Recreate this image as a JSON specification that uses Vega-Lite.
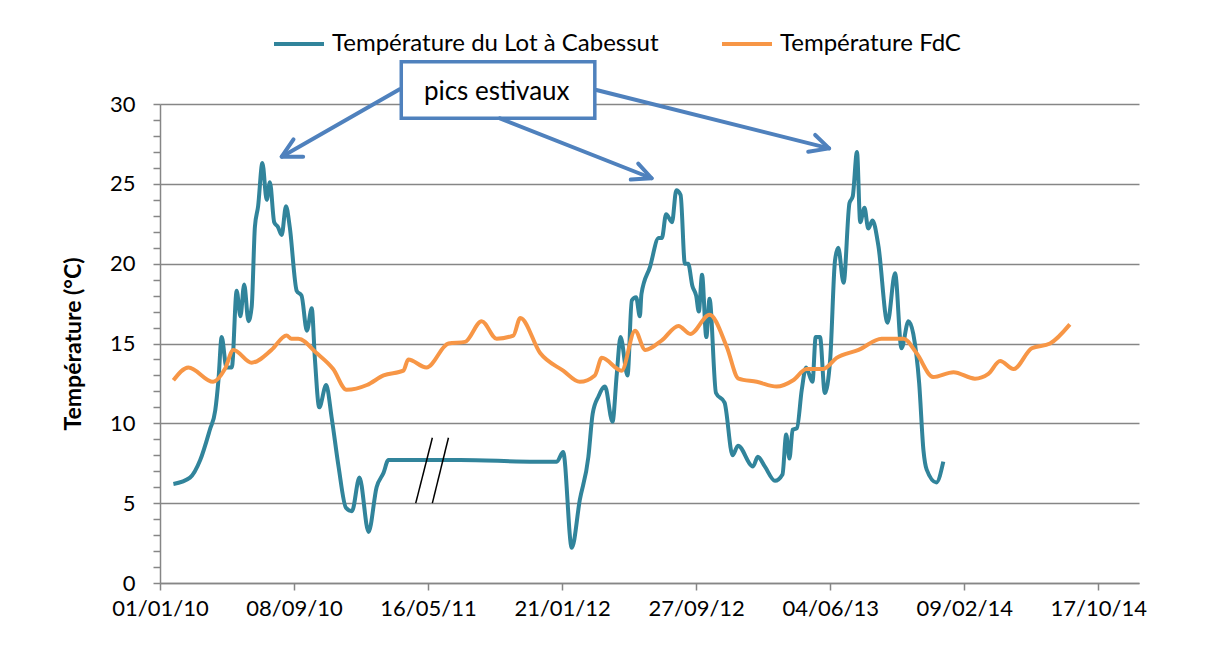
{
  "$schema": "https://vega.github.io/schema/vega-lite/v6.json",
  "width": 979,
  "height": 479,
  "autosize": {"type": "none"},
  "padding": {"left": 160, "top": 104, "right": 74, "bottom": 72},
  "background": "white",
  "config": {
    "font": "Lato",
    "view": {"stroke": null},
    "axis": {"labelColor": "#000", "titleColor": "#000", "domainColor": "#868686", "tickColor": "#868686", "gridColor": "#868686", "domainWidth": 1.5, "tickWidth": 1.5, "gridWidth": 1.5}
  },
  "datasets": {
    "temps": [
      {"serie": "Température du Lot à Cabessut", "date": "2010-01-26", "t": 6.2},
      {"serie": "Température du Lot à Cabessut", "date": "2010-02-26", "t": 6.6},
      {"serie": "Température du Lot à Cabessut", "date": "2010-03-17", "t": 7.7},
      {"serie": "Température du Lot à Cabessut", "date": "2010-04-04", "t": 9.6},
      {"serie": "Température du Lot à Cabessut", "date": "2010-04-14", "t": 10.8},
      {"serie": "Température du Lot à Cabessut", "date": "2010-04-20", "t": 12.7},
      {"serie": "Température du Lot à Cabessut", "date": "2010-04-26", "t": 15.4},
      {"serie": "Température du Lot à Cabessut", "date": "2010-05-05", "t": 13.5},
      {"serie": "Température du Lot à Cabessut", "date": "2010-05-15", "t": 13.5},
      {"serie": "Température du Lot à Cabessut", "date": "2010-05-24", "t": 18.3},
      {"serie": "Température du Lot à Cabessut", "date": "2010-05-31", "t": 16.7},
      {"serie": "Température du Lot à Cabessut", "date": "2010-06-07", "t": 18.7},
      {"serie": "Température du Lot à Cabessut", "date": "2010-06-15", "t": 16.4},
      {"serie": "Température du Lot à Cabessut", "date": "2010-06-21", "t": 17.3},
      {"serie": "Température du Lot à Cabessut", "date": "2010-06-27", "t": 22.3},
      {"serie": "Température du Lot à Cabessut", "date": "2010-07-03", "t": 23.6},
      {"serie": "Température du Lot à Cabessut", "date": "2010-07-11", "t": 26.3},
      {"serie": "Température du Lot à Cabessut", "date": "2010-07-19", "t": 24.0},
      {"serie": "Température du Lot à Cabessut", "date": "2010-07-25", "t": 25.1},
      {"serie": "Température du Lot à Cabessut", "date": "2010-08-02", "t": 22.6},
      {"serie": "Température du Lot à Cabessut", "date": "2010-08-09", "t": 22.3},
      {"serie": "Température du Lot à Cabessut", "date": "2010-08-16", "t": 21.8},
      {"serie": "Température du Lot à Cabessut", "date": "2010-08-24", "t": 23.6},
      {"serie": "Température du Lot à Cabessut", "date": "2010-08-31", "t": 22.3},
      {"serie": "Température du Lot à Cabessut", "date": "2010-09-13", "t": 18.3},
      {"serie": "Température du Lot à Cabessut", "date": "2010-09-22", "t": 18.0},
      {"serie": "Température du Lot à Cabessut", "date": "2010-10-02", "t": 15.8},
      {"serie": "Température du Lot à Cabessut", "date": "2010-10-11", "t": 17.2},
      {"serie": "Température du Lot à Cabessut", "date": "2010-10-17", "t": 14.0},
      {"serie": "Température du Lot à Cabessut", "date": "2010-10-25", "t": 11.0},
      {"serie": "Température du Lot à Cabessut", "date": "2010-11-07", "t": 12.4},
      {"serie": "Température du Lot à Cabessut", "date": "2010-11-17", "t": 10.4},
      {"serie": "Température du Lot à Cabessut", "date": "2010-11-30", "t": 7.3},
      {"serie": "Température du Lot à Cabessut", "date": "2010-12-14", "t": 4.7},
      {"serie": "Température du Lot à Cabessut", "date": "2010-12-25", "t": 4.5},
      {"serie": "Température du Lot à Cabessut", "date": "2011-01-08", "t": 6.6},
      {"serie": "Température du Lot à Cabessut", "date": "2011-01-25", "t": 3.2},
      {"serie": "Température du Lot à Cabessut", "date": "2011-02-09", "t": 6.0},
      {"serie": "Température du Lot à Cabessut", "date": "2011-02-22", "t": 6.9},
      {"serie": "Température du Lot à Cabessut", "date": "2011-03-03", "t": 7.7},
      {"serie": "Température du Lot à Cabessut", "date": "2011-07-15", "t": 7.7},
      {"serie": "Température du Lot à Cabessut", "date": "2011-12-02", "t": 7.6},
      {"serie": "Température du Lot à Cabessut", "date": "2012-01-11", "t": 7.6},
      {"serie": "Température du Lot à Cabessut", "date": "2012-01-23", "t": 8.2},
      {"serie": "Température du Lot à Cabessut", "date": "2012-02-08", "t": 2.2},
      {"serie": "Température du Lot à Cabessut", "date": "2012-02-23", "t": 5.2},
      {"serie": "Température du Lot à Cabessut", "date": "2012-03-10", "t": 7.9},
      {"serie": "Température du Lot à Cabessut", "date": "2012-03-18", "t": 10.6},
      {"serie": "Température du Lot à Cabessut", "date": "2012-03-29", "t": 11.7},
      {"serie": "Température du Lot à Cabessut", "date": "2012-04-10", "t": 12.3},
      {"serie": "Température du Lot à Cabessut", "date": "2012-04-24", "t": 10.1},
      {"serie": "Température du Lot à Cabessut", "date": "2012-05-02", "t": 13.1},
      {"serie": "Température du Lot à Cabessut", "date": "2012-05-09", "t": 15.4},
      {"serie": "Température du Lot à Cabessut", "date": "2012-05-22", "t": 13.0},
      {"serie": "Température du Lot à Cabessut", "date": "2012-05-30", "t": 17.7},
      {"serie": "Température du Lot à Cabessut", "date": "2012-06-07", "t": 17.9},
      {"serie": "Température du Lot à Cabessut", "date": "2012-06-14", "t": 16.7},
      {"serie": "Température du Lot à Cabessut", "date": "2012-06-17", "t": 18.1},
      {"serie": "Température du Lot à Cabessut", "date": "2012-07-03", "t": 19.8},
      {"serie": "Température du Lot à Cabessut", "date": "2012-07-19", "t": 21.6},
      {"serie": "Température du Lot à Cabessut", "date": "2012-07-25", "t": 21.6},
      {"serie": "Température du Lot à Cabessut", "date": "2012-08-02", "t": 23.1},
      {"serie": "Température du Lot à Cabessut", "date": "2012-08-13", "t": 22.6},
      {"serie": "Température du Lot à Cabessut", "date": "2012-08-21", "t": 24.6},
      {"serie": "Température du Lot à Cabessut", "date": "2012-08-29", "t": 24.3},
      {"serie": "Température du Lot à Cabessut", "date": "2012-09-06", "t": 20.0},
      {"serie": "Température du Lot à Cabessut", "date": "2012-09-12", "t": 20.0},
      {"serie": "Température du Lot à Cabessut", "date": "2012-09-20", "t": 18.6},
      {"serie": "Température du Lot à Cabessut", "date": "2012-09-27", "t": 18.0},
      {"serie": "Température du Lot à Cabessut", "date": "2012-10-02", "t": 17.0},
      {"serie": "Température du Lot à Cabessut", "date": "2012-10-08", "t": 19.3},
      {"serie": "Température du Lot à Cabessut", "date": "2012-10-16", "t": 15.4},
      {"serie": "Température du Lot à Cabessut", "date": "2012-10-22", "t": 17.8},
      {"serie": "Température du Lot à Cabessut", "date": "2012-11-03", "t": 11.9},
      {"serie": "Température du Lot à Cabessut", "date": "2012-11-19", "t": 11.3},
      {"serie": "Température du Lot à Cabessut", "date": "2012-12-04", "t": 8.0},
      {"serie": "Température du Lot à Cabessut", "date": "2012-12-14", "t": 8.6},
      {"serie": "Température du Lot à Cabessut", "date": "2013-01-11", "t": 7.3},
      {"serie": "Température du Lot à Cabessut", "date": "2013-01-20", "t": 7.9},
      {"serie": "Température du Lot à Cabessut", "date": "2013-02-02", "t": 7.3},
      {"serie": "Température du Lot à Cabessut", "date": "2013-02-21", "t": 6.4},
      {"serie": "Température du Lot à Cabessut", "date": "2013-03-07", "t": 6.8},
      {"serie": "Température du Lot à Cabessut", "date": "2013-03-14", "t": 9.3},
      {"serie": "Température du Lot à Cabessut", "date": "2013-03-20", "t": 7.8},
      {"serie": "Température du Lot à Cabessut", "date": "2013-03-26", "t": 9.6},
      {"serie": "Température du Lot à Cabessut", "date": "2013-04-03", "t": 9.7},
      {"serie": "Température du Lot à Cabessut", "date": "2013-04-12", "t": 12.1},
      {"serie": "Température du Lot à Cabessut", "date": "2013-04-20", "t": 13.5},
      {"serie": "Température du Lot à Cabessut", "date": "2013-05-02", "t": 12.6},
      {"serie": "Température du Lot à Cabessut", "date": "2013-05-08", "t": 15.4},
      {"serie": "Température du Lot à Cabessut", "date": "2013-05-16", "t": 15.4},
      {"serie": "Température du Lot à Cabessut", "date": "2013-05-25", "t": 11.9},
      {"serie": "Température du Lot à Cabessut", "date": "2013-06-04", "t": 14.0},
      {"serie": "Température du Lot à Cabessut", "date": "2013-06-13", "t": 20.2},
      {"serie": "Température du Lot à Cabessut", "date": "2013-06-19", "t": 21.0},
      {"serie": "Température du Lot à Cabessut", "date": "2013-06-29", "t": 18.8},
      {"serie": "Température du Lot à Cabessut", "date": "2013-07-10", "t": 23.8},
      {"serie": "Température du Lot à Cabessut", "date": "2013-07-16", "t": 24.2},
      {"serie": "Température du Lot à Cabessut", "date": "2013-07-24", "t": 27.0},
      {"serie": "Température du Lot à Cabessut", "date": "2013-07-30", "t": 22.6},
      {"serie": "Température du Lot à Cabessut", "date": "2013-08-07", "t": 23.5},
      {"serie": "Température du Lot à Cabessut", "date": "2013-08-14", "t": 22.2},
      {"serie": "Température du Lot à Cabessut", "date": "2013-08-22", "t": 22.7},
      {"serie": "Température du Lot à Cabessut", "date": "2013-09-02", "t": 21.1},
      {"serie": "Température du Lot à Cabessut", "date": "2013-09-19", "t": 16.3},
      {"serie": "Température du Lot à Cabessut", "date": "2013-10-03", "t": 19.4},
      {"serie": "Température du Lot à Cabessut", "date": "2013-10-15", "t": 14.7},
      {"serie": "Température du Lot à Cabessut", "date": "2013-10-28", "t": 16.4},
      {"serie": "Température du Lot à Cabessut", "date": "2013-11-06", "t": 15.6},
      {"serie": "Température du Lot à Cabessut", "date": "2013-11-17", "t": 12.5},
      {"serie": "Température du Lot à Cabessut", "date": "2013-11-25", "t": 8.3},
      {"serie": "Température du Lot à Cabessut", "date": "2013-12-01", "t": 7.1},
      {"serie": "Température du Lot à Cabessut", "date": "2013-12-19", "t": 6.3},
      {"serie": "Température du Lot à Cabessut", "date": "2014-01-01", "t": 7.6},
      {"serie": "Température FdC", "date": "2010-01-26", "t": 12.7},
      {"serie": "Température FdC", "date": "2010-02-23", "t": 13.5},
      {"serie": "Température FdC", "date": "2010-04-10", "t": 12.6},
      {"serie": "Température FdC", "date": "2010-05-02", "t": 13.4},
      {"serie": "Température FdC", "date": "2010-05-18", "t": 14.6},
      {"serie": "Température FdC", "date": "2010-06-21", "t": 13.8},
      {"serie": "Température FdC", "date": "2010-07-28", "t": 14.6},
      {"serie": "Température FdC", "date": "2010-08-25", "t": 15.5},
      {"serie": "Température FdC", "date": "2010-09-03", "t": 15.3},
      {"serie": "Température FdC", "date": "2010-09-16", "t": 15.3},
      {"serie": "Température FdC", "date": "2010-10-20", "t": 14.4},
      {"serie": "Température FdC", "date": "2010-11-20", "t": 13.4},
      {"serie": "Température FdC", "date": "2010-12-15", "t": 12.1},
      {"serie": "Température FdC", "date": "2011-01-22", "t": 12.4},
      {"serie": "Température FdC", "date": "2011-02-22", "t": 13.0},
      {"serie": "Température FdC", "date": "2011-03-31", "t": 13.3},
      {"serie": "Température FdC", "date": "2011-04-09", "t": 14.0},
      {"serie": "Température FdC", "date": "2011-05-13", "t": 13.5},
      {"serie": "Température FdC", "date": "2011-06-23", "t": 15.0},
      {"serie": "Température FdC", "date": "2011-07-24", "t": 15.1},
      {"serie": "Température FdC", "date": "2011-08-24", "t": 16.4},
      {"serie": "Température FdC", "date": "2011-09-21", "t": 15.3},
      {"serie": "Température FdC", "date": "2011-10-22", "t": 15.5},
      {"serie": "Température FdC", "date": "2011-11-04", "t": 16.6},
      {"serie": "Température FdC", "date": "2011-12-11", "t": 14.4},
      {"serie": "Température FdC", "date": "2012-01-23", "t": 13.3},
      {"serie": "Température FdC", "date": "2012-02-23", "t": 12.6},
      {"serie": "Température FdC", "date": "2012-03-22", "t": 13.0},
      {"serie": "Température FdC", "date": "2012-04-04", "t": 14.1},
      {"serie": "Température FdC", "date": "2012-05-11", "t": 13.3},
      {"serie": "Température FdC", "date": "2012-06-05", "t": 15.8},
      {"serie": "Température FdC", "date": "2012-06-24", "t": 14.6},
      {"serie": "Température FdC", "date": "2012-07-25", "t": 15.2},
      {"serie": "Température FdC", "date": "2012-08-25", "t": 16.1},
      {"serie": "Température FdC", "date": "2012-09-16", "t": 15.6},
      {"serie": "Température FdC", "date": "2012-10-22", "t": 16.8},
      {"serie": "Température FdC", "date": "2012-11-23", "t": 14.8},
      {"serie": "Température FdC", "date": "2012-12-15", "t": 12.8},
      {"serie": "Température FdC", "date": "2013-01-18", "t": 12.6},
      {"serie": "Température FdC", "date": "2013-02-24", "t": 12.3},
      {"serie": "Température FdC", "date": "2013-03-27", "t": 12.7},
      {"serie": "Température FdC", "date": "2013-04-21", "t": 13.4},
      {"serie": "Température FdC", "date": "2013-05-22", "t": 13.4},
      {"serie": "Température FdC", "date": "2013-06-16", "t": 14.1},
      {"serie": "Température FdC", "date": "2013-07-27", "t": 14.6},
      {"serie": "Température FdC", "date": "2013-09-08", "t": 15.3},
      {"serie": "Température FdC", "date": "2013-10-19", "t": 15.3},
      {"serie": "Température FdC", "date": "2013-11-12", "t": 14.4},
      {"serie": "Température FdC", "date": "2013-12-13", "t": 12.9},
      {"serie": "Température FdC", "date": "2014-01-20", "t": 13.2},
      {"serie": "Température FdC", "date": "2014-03-01", "t": 12.8},
      {"serie": "Température FdC", "date": "2014-03-26", "t": 13.1},
      {"serie": "Température FdC", "date": "2014-04-17", "t": 13.9},
      {"serie": "Température FdC", "date": "2014-05-12", "t": 13.4},
      {"serie": "Température FdC", "date": "2014-06-15", "t": 14.7},
      {"serie": "Température FdC", "date": "2014-07-19", "t": 15.0},
      {"serie": "Température FdC", "date": "2014-08-25", "t": 16.2}
    ],
    "breaks": [
      {"id": "b1", "k": 1, "date": "2011-04-23", "t": 5.0},
      {"id": "b1", "k": 2, "date": "2011-05-24", "t": 9.1},
      {"id": "b2", "k": 1, "date": "2011-05-24", "t": 5.0},
      {"id": "b2", "k": 2, "date": "2011-06-23", "t": 9.1}
    ],
    "box": [
      {"date": "2011-03-27", "date2": "2012-03-22", "t": 32.65, "t2": 29.1}
    ],
    "label": [
      {"date": "2011-09-21", "t": 30.77, "txt": "pics estivaux"}
    ],
    "arrows": [
      {"id": "a1s", "k": 1, "date": "2011-03-24", "t": 30.92},
      {"id": "a1s", "k": 2, "date": "2010-08-16", "t": 26.7},
      {"id": "a1h", "k": 1, "date": "2010-09-07", "t": 27.79},
      {"id": "a1h", "k": 2, "date": "2010-08-16", "t": 26.7},
      {"id": "a1h", "k": 3, "date": "2010-09-25", "t": 26.7},
      {"id": "a2s", "k": 1, "date": "2011-09-27", "t": 29.1},
      {"id": "a2s", "k": 2, "date": "2012-07-06", "t": 25.35},
      {"id": "a2h", "k": 1, "date": "2012-06-11", "t": 26.27},
      {"id": "a2h", "k": 2, "date": "2012-07-06", "t": 25.35},
      {"id": "a2h", "k": 3, "date": "2012-05-28", "t": 25.27},
      {"id": "a3s", "k": 1, "date": "2012-03-25", "t": 30.88},
      {"id": "a3s", "k": 2, "date": "2013-06-02", "t": 27.22},
      {"id": "a3h", "k": 1, "date": "2013-05-07", "t": 28.06},
      {"id": "a3h", "k": 2, "date": "2013-06-02", "t": 27.22},
      {"id": "a3h", "k": 3, "date": "2013-04-24", "t": 27.01}
    ]
  },
  "encoding": {
    "x": {
      "field": "date", "type": "temporal", "title": null,
      "scale": {"type": "utc", "domain": [1262304000000, 1420070400000], "nice": false},
      "axis": {
        "values": [1262304000000, 1283904000000, 1305504000000, 1327104000000, 1348704000000, 1370304000000, 1391904000000, 1413504000000],
        "format": "%d/%m/%y", "labelFontSize": 22, "labelPadding": 8, "tickSize": 7, "grid": false, "labelOverlap": false, "labelFlush": false
      }
    },
    "y": {
      "field": "t", "type": "quantitative", "title": "Température (°C)",
      "scale": {"domain": [0, 30], "nice": false, "zero": true},
      "axis": {
        "values": [0,1,2,3,4,5,6,7,8,9,10,11,12,13,14,15,16,17,18,19,20,21,22,23,24,25,26,27,28,29,30],
        "labelExpr": "datum.value % 5 === 0 ? datum.label : ''",
        "labelFontSize": 22, "labelPadding": 18, "tickSize": 7, "labelOverlap": false,
        "grid": true,
        "gridOpacity": {"condition": {"test": "datum.value % 5 === 0", "value": 1}, "value": 0},
        "titleFontSize": 23, "titleFontWeight": "bold", "titlePadding": 24
      }
    }
  },
  "layer": [
    {
      "data": {"name": "temps"},
      "mark": {"type": "line", "interpolate": "monotone", "strokeWidth": 4},
      "encoding": {
        "color": {
          "field": "serie", "type": "nominal",
          "scale": {"domain": ["Température du Lot à Cabessut", "Température FdC"], "range": ["#31849B", "#F79646"]},
          "legend": {
            "title": null, "orient": "none", "direction": "horizontal", "legendX": 112, "legendY": -87,
            "symbolType": "stroke", "symbolSize": 2500, "symbolStrokeWidth": 4, "labelFontSize": 24, "labelOffset": 6, "columnPadding": 55, "labelLimit": 600
          }
        }
      }
    },
    {
      "data": {"name": "breaks"},
      "mark": {"type": "line", "color": "black", "strokeWidth": 1.5},
      "encoding": {"detail": {"field": "id"}, "order": {"field": "k"}}
    },
    {
      "data": {"name": "box"},
      "mark": {"type": "rect", "fill": "white", "stroke": "#4F81BD", "strokeWidth": 3.5},
      "encoding": {"x2": {"field": "date2"}, "y2": {"field": "t2"}}
    },
    {
      "data": {"name": "label"},
      "mark": {"type": "text", "fontSize": 26, "color": "black", "align": "center", "baseline": "middle"},
      "encoding": {"text": {"field": "txt"}}
    },
    {
      "data": {"name": "arrows"},
      "mark": {"type": "line", "color": "#4F81BD", "strokeWidth": 4, "strokeCap": "round", "strokeJoin": "round"},
      "encoding": {"detail": {"field": "id"}, "order": {"field": "k"}}
    }
  ]
}
